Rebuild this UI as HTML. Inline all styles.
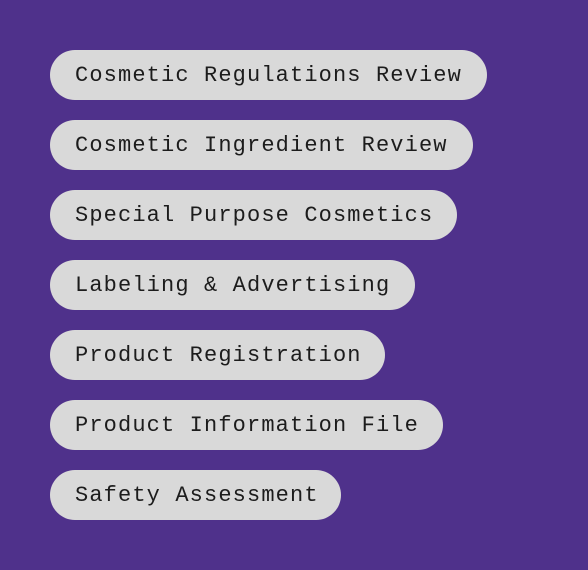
<!DOCTYPE html>
<html><head><meta charset="utf-8">
<style>
html,body{margin:0;padding:0}
body{width:588px;height:570px;background:#4f318b;position:relative;overflow:hidden}
.pill{position:absolute;left:50px;height:50px;border-radius:25px;background:#d9d9d9;
box-sizing:border-box;padding-left:25px;line-height:52px;
font-family:"Liberation Mono",monospace;font-size:22px;letter-spacing:1.13px;color:#1c1c1c;white-space:nowrap}
</style></head>
<body>
<div class="pill" style="top:50px;width:437px">Cosmetic Regulations Review</div>
<div class="pill" style="top:120px;width:423px">Cosmetic Ingredient Review</div>
<div class="pill" style="top:190px;width:407px">Special Purpose Cosmetics</div>
<div class="pill" style="top:260px;width:365px">Labeling &amp; Advertising</div>
<div class="pill" style="top:330px;width:335px">Product Registration</div>
<div class="pill" style="top:400px;width:393px">Product Information File</div>
<div class="pill" style="top:470px;width:291px">Safety Assessment</div>
</body></html>
